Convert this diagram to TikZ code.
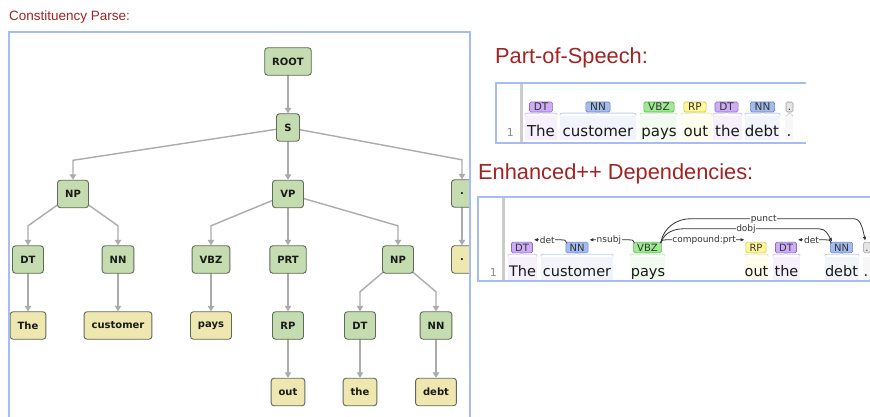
\documentclass[tikz,border=0pt]{standalone}
\usepackage{fontspec}
\setmainfont{DejaVu Sans}
\newfontfamily\headfont{Liberation Sans}
\usetikzlibrary{arrows.meta,calc,backgrounds}
\definecolor{headred}{HTML}{A32222}
\definecolor{frameblue}{HTML}{A6BCF4}
\definecolor{tgreen}{HTML}{C4DCB0}
\definecolor{tyellow}{HTML}{EFE7B0}
\definecolor{tborder}{HTML}{5E6B58}
\definecolor{tedgec}{HTML}{ABABAB}
\definecolor{dtfill}{HTML}{CCADF6}\definecolor{dtdraw}{HTML}{8E6CC4}\definecolor{dtbg}{HTML}{F6F0FD}\definecolor{dtbr}{HTML}{D9C6F5}
\definecolor{nnfill}{HTML}{A4BCED}\definecolor{nndraw}{HTML}{6A84BE}\definecolor{nnbg}{HTML}{F1F4FB}\definecolor{nnbr}{HTML}{C3D1F0}
\definecolor{vbfill}{HTML}{9EEA92}\definecolor{vbdraw}{HTML}{5DAF52}\definecolor{vbbg}{HTML}{F1FBEF}\definecolor{vbbr}{HTML}{C5EEC0}
\definecolor{rpfill}{HTML}{FFF79A}\definecolor{rpdraw}{HTML}{CFC24A}\definecolor{rpbg}{HTML}{FFFDEB}\definecolor{rpbr}{HTML}{F0EBB0}
\definecolor{ptfill}{HTML}{E4E4E4}\definecolor{ptdraw}{HTML}{9A9A9A}\definecolor{ptbg}{HTML}{F7F7F7}\definecolor{ptbr}{HTML}{D5D5D5}
\definecolor{arcc}{HTML}{333333}
\definecolor{sepgray}{HTML}{CCCCCC}
\newcommand\wbg[5]{\fill[#5] (#1,#3) rectangle (#2,#4);}
\newcommand\brk[5]{\draw[#5, line width=0.9pt] (#1,#4+3.5) .. controls (#1,#4+1.2) .. (#1+3,#4+1.2) -- (#3-2,#4+1.2) -- (#3,#4) -- (#3+2,#4+1.2) -- (#2-3,#4+1.2) .. controls (#2,#4+1.2) .. (#2,#4+3.5);}
\begin{document}
\begin{tikzpicture}[x=1pt,y=-1pt,
  tnode/.style={draw=tborder, line width=0.9pt, rounded corners=3pt, fill=tgreen,
    minimum height=27.5pt, minimum width=31pt, inner xsep=7.5pt, inner ysep=0pt,
    font=\fontsize{10}{11}\selectfont\bfseries, text=black!90},
  tleaf/.style={tnode, fill=tyellow},
  tdot/.style={minimum width=21pt, inner xsep=3pt},
  tedge/.style={draw=tedgec, line width=1.4pt, -{Triangle[width=6.5pt,length=5.5pt]}},
  frame/.style={draw=frameblue, line width=1.2pt},
  sep/.style={draw=sepgray, line width=2.2pt},
  head/.style={anchor=base west, inner sep=0pt, text=headred, font=\headfont\fontsize{21.8}{24}\selectfont},
  lnum/.style={anchor=base east, inner sep=0pt, text=black!45, font=\fontsize{11}{11}\selectfont},
  tag/.style={fill=#1fill, draw=#1draw, line width=0.6pt, rounded corners=1.5pt,
    inner xsep=4.3pt, inner ysep=1.2pt, text height=7.6pt, text depth=0pt,
    text=black!80, font=\fontsize{10.5}{10}\selectfont},
  dtag/.style={tag=#1, inner xsep=3.6pt, inner ysep=1.6pt, font=\fontsize{10}{10}\selectfont},
  word/.style={anchor=base, inner sep=0pt, text=black!90, font=\fontsize{15}{15}\selectfont},
  dword/.style={word, font=\fontsize{14.5}{15}\selectfont},
  dep/.style={draw=arcc, line width=0.8pt},
  tip/.style={-{Latex[length=4pt,width=3.6pt]}},
  lab/.style={fill=white, inner sep=0.6pt, text=arcc, font=\fontsize{9}{9}\selectfont},
]
\useasboundingbox (0,0) rectangle (870,417);
\begin{scope}[on background layer]
\fill[white] (0,0) rectangle (870,417);
\end{scope}

% ---------------- Constituency parse ----------------
\node[head, font=\headfont\fontsize{13.5}{14}\selectfont] (h1) at (9,21) {Constituency Parse:};

\begin{scope}
\clip (9,32) rectangle (470,418);
\node[tnode] (root) at (288,61.5) {ROOT};
\node[tnode, minimum width=23pt] (s) at (288,127.5) {S};
\node[tnode] (np1) at (73,194) {NP};
\node[tnode] (vp) at (288,194) {VP};
\node[tnode, tdot] (p1) at (462,193.5) {.};
\node[tnode] (dt1) at (28,259.5) {DT};
\node[tnode] (nn1) at (118,259.5) {NN};
\node[tnode] (vbz) at (211,259.5) {VBZ};
\node[tnode] (prt) at (288,259.5) {PRT};
\node[tnode] (np2) at (398,259.5) {NP};
\node[tleaf, tdot] (p2) at (462,259.5) {.};
\node[tleaf] (w1) at (28,325.5) {The};
\node[tleaf] (w2) at (118,325.5) {customer};
\node[tleaf] (w3) at (211,325.5) {pays};
\node[tnode] (rp) at (288,325.5) {RP};
\node[tnode] (dt2) at (360,325.5) {DT};
\node[tnode] (nn2) at (436,325.5) {NN};
\node[tleaf] (w4) at (288,392) {out};
\node[tleaf] (w5) at (360,392) {the};
\node[tleaf] (w6) at (436,392) {debt};
\end{scope}

\begin{scope}[on background layer]
\draw[tedge] (root.center) -- (s.north);
\draw[tedge] (s.center) -- ([yshift=19.5pt]np1.north) -- (np1.north);
\draw[tedge] (s.center) -- (vp.north);
\draw[tedge] (s.center) -- ([yshift=19.5pt]p1.north) -- (p1.north);
\draw[tedge] (np1.center) -- ([yshift=19.5pt]dt1.north) -- (dt1.north);
\draw[tedge] (np1.center) -- ([yshift=19.5pt]nn1.north) -- (nn1.north);
\draw[tedge] (vp.center) -- ([yshift=19.5pt]vbz.north) -- (vbz.north);
\draw[tedge] (vp.center) -- (prt.north);
\draw[tedge] (vp.center) -- ([yshift=19.5pt]np2.north) -- (np2.north);
\draw[tedge] (p1.center) -- (p2.north);
\draw[tedge] (dt1.center) -- (w1.north);
\draw[tedge] (nn1.center) -- (w2.north);
\draw[tedge] (vbz.center) -- (w3.north);
\draw[tedge] (prt.center) -- (rp.north);
\draw[tedge] (np2.center) -- ([yshift=19.5pt]dt2.north) -- (dt2.north);
\draw[tedge] (np2.center) -- ([yshift=19.5pt]nn2.north) -- (nn2.north);
\draw[tedge] (rp.center) -- (w4.north);
\draw[tedge] (dt2.center) -- (w5.north);
\draw[tedge] (nn2.center) -- (w6.north);
\end{scope}

\draw[frame] (9,418) -- (9,32) -- (470,32) -- (470,418);

% ---------------- Part-of-Speech ----------------
\node[head] (h2) at (495,64) {Part-of-Speech:};
\draw[frame] (806,83) -- (496,83) -- (496,143) -- (806,143);
\draw[sep] (521.5,83.6) -- (521.5,142.4);
\node[lnum] (n1) at (514,136) {1};

\wbg{525}{557}{116}{140}{dtbg}
\wbg{560}{636}{116}{140}{nnbg}
\wbg{640}{677}{116}{140}{vbbg}
\wbg{681}{712}{116}{140}{rpbg}
\wbg{713}{742}{116}{140}{dtbg}
\wbg{745}{780}{116}{140}{nnbg}
\wbg{785}{793}{116}{140}{ptbg}
\brk{525}{557}{541}{112}{dtbr}
\brk{560}{636}{598}{112}{nnbr}
\brk{640}{677}{659}{112}{vbbr}
\brk{681}{712}{695}{112}{rpbr}
\brk{713}{742}{726.5}{112}{dtbr}
\brk{745}{780}{762.5}{112}{nnbr}
\draw[ptbr, line width=0.9pt] (786,116) -- (789.5,113) -- (793,116);

\node[tag=dt] (pt1) at (541,107) {DT};
\node[tag=nn] (pt2) at (598,107) {NN};
\node[tag=vb] (pt3) at (659,107) {VBZ};
\node[tag=rp] (pt4) at (695,107) {RP};
\node[tag=dt] (pt5) at (726.5,107) {DT};
\node[tag=nn] (pt6) at (762.5,107) {NN};
\node[tag=pt, inner xsep=1.8pt] (pt7) at (789.5,107) {.};

\node[word] (pw1) at (541,136) {The};
\node[word] (pw2) at (598,136) {customer};
\node[word] (pw3) at (659,136) {pays};
\node[word] (pw4) at (696,136) {out};
\node[word] (pw5) at (727.5,136) {the};
\node[word] (pw6) at (762,136) {debt};
\node[word] (pw7) at (789,136) {.};

% ---------------- Enhanced++ Dependencies ----------------
\node[head] (h3) at (478,179) {Enhanced++ Dependencies:};
\draw[frame] (871,197) -- (478,197) -- (478,281) -- (871,281);
\draw[sep] (503.5,197.6) -- (503.5,280.4);
\node[lnum] (n2) at (497,276) {1};

\wbg{508}{537}{257}{280}{dtbg}
\wbg{541}{613}{257}{280}{nnbg}
\wbg{630}{665}{257}{280}{vbbg}
\wbg{745}{768}{257}{280}{rpbg}
\wbg{773}{800}{257}{280}{dtbg}
\wbg{825}{859}{257}{280}{nnbg}
\wbg{863}{871}{257}{280}{ptbg}
\brk{508}{537}{522}{253}{dtbr}
\brk{541}{613}{577}{253}{nnbr}
\brk{630}{665}{647.5}{253}{vbbr}
\brk{745}{768}{756}{253}{rpbr}
\brk{773}{800}{786}{253}{dtbr}
\brk{825}{859}{841.5}{253}{nnbr}

\node[dtag=dt] (d1) at (522,247.5) {DT};
\node[dtag=nn] (d2) at (577,247.5) {NN};
\node[dtag=vb] (d3) at (647.5,247.5) {VBZ};
\node[dtag=rp] (d4) at (756,247.5) {RP};
\node[dtag=dt] (d5) at (786,247.5) {DT};
\node[dtag=nn] (d6) at (841.5,247.5) {NN};
\node[dtag=pt, inner xsep=1.8pt] (d7) at (867,247.5) {.};

\node[dword] (dw1) at (522.5,276) {The};
\node[dword] (dw2) at (577,276) {customer};
\node[dword] (dw3) at (648,276) {pays};
\node[dword] (dw4) at (756.5,276) {out};
\node[dword] (dw5) at (786.5,276) {the};
\node[dword] (dw6) at (841.5,276) {debt};
\node[dword] (dw7) at (866,276) {.};

% arcs
\draw[dep, tip] ($(d2.north west)+(1,1.5)$) .. controls +(-1,-4) and +(3,0) .. ($(d2.north west)+(-5,-2)$)
   -- node[lab] {det} ($(d1.north east)+(1,-2)$);
\draw[dep, tip] ($(d3.north west)+(1,1.5)$) .. controls +(-1,-4) and +(3,0) .. ($(d3.north west)+(-5,-2)$)
   -- node[lab] {nsubj} ($(d2.north east)+(1,-2)$);
\draw[dep, tip] ($(d3.north east)+(-1,1.5)$) .. controls +(1,-4) and +(-3,0) .. ($(d3.north east)+(5,-2)$)
   -- node[lab, pos=0.48] {compound:prt} ($(d4.north west)+(-1,-2)$);
\draw[dep, tip] ($(d6.north west)+(1,1.5)$) .. controls +(-1,-4) and +(3,0) .. ($(d6.north west)+(-5,-2)$)
   -- node[lab] {det} ($(d5.north east)+(1,-2)$);
\draw[dep, tip] ($(d3.north east)+(-1,1)$) .. controls +(4,-11) and +(-9,0) .. ($(d3.north east)+(22,-13)$)
   -- node[lab, pos=0.46] {dobj} ($(d6.north west)+(-11,-13)$)
   .. controls +(7,0) and +(-4,-7) .. ($(d6.north west)+(2,0)$);
\draw[dep, tip] ($(d3.north east)+(-1,1)$) .. controls +(3,-16) and +(-12,0) .. ($(d3.north east)+(28,-23)$)
   -- node[lab, pos=0.45] {punct} ($(d7.north west)+(-9,-23)$)
   .. controls +(7,0) and +(-2,-9) .. ($(d7.north west)+(2,-1)$);
\end{tikzpicture}
\end{document}
